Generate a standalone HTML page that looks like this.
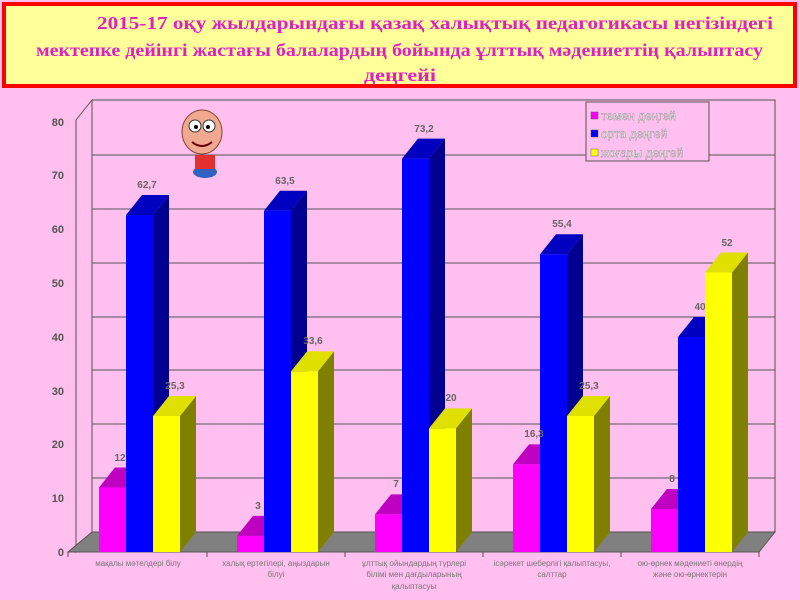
<!DOCTYPE html>
<html><head><meta charset="utf-8"><style>
body{margin:0;background:#ffbfef;}
svg{display:block}
</style></head><body>
<svg width="800" height="600" xmlns="http://www.w3.org/2000/svg" font-family="Liberation Sans, sans-serif">
<rect width="800" height="600" fill="#ffbfef"/>
<rect x="4" y="4" width="791" height="82" fill="#ffff99" stroke="#ff0000" stroke-width="4"/>
<g font-family="Liberation Serif, serif" font-weight="bold" font-size="18" fill="#e020c0">
<text x="97" y="29" textLength="676" lengthAdjust="spacingAndGlyphs">2015-17 оқу жылдарындағы       қазақ  халықтық  педагогикасы негізіндегі</text>
<text x="36" y="56" textLength="727" lengthAdjust="spacingAndGlyphs">мектепке дейінгі жастағы балалардың бойында ұлттық мәдениеттің қалыптасу</text>
<text x="364" y="81" textLength="72" lengthAdjust="spacingAndGlyphs">деңгейі</text>
</g>
<polygon points="76,552 92,532 92,100 76,120" fill="#ffbfef" stroke="#555" stroke-width="1"/>
<rect x="92" y="100" width="683" height="432" fill="#ffbfef" stroke="#555"/>
<g stroke="#555" stroke-width="1">
<line x1="92" y1="478" x2="775" y2="478"/><line x1="92" y1="424" x2="775" y2="424"/>
<line x1="92" y1="370" x2="775" y2="370"/><line x1="92" y1="317" x2="775" y2="317"/>
<line x1="92" y1="263" x2="775" y2="263"/><line x1="92" y1="209" x2="775" y2="209"/>
<line x1="92" y1="155" x2="775" y2="155"/>
</g>
<polygon points="68,552 92,532 775,532 759,552" fill="#808080" stroke="#555"/>
<line x1="68" y1="552" x2="759" y2="552" stroke="#555"/>
<g stroke="#555"><line x1="68" y1="552" x2="68" y2="557"/><line x1="207" y1="552" x2="207" y2="557"/><line x1="345" y1="552" x2="345" y2="557"/><line x1="483" y1="552" x2="483" y2="557"/><line x1="621" y1="552" x2="621" y2="557"/><line x1="759" y1="552" x2="759" y2="557"/></g>
<g font-size="11" font-weight="bold" fill="#555" text-anchor="end">
<text x="64" y="556">0</text><text x="64" y="502">10</text><text x="64" y="448">20</text><text x="64" y="395">30</text><text x="64" y="341">40</text><text x="64" y="287">50</text><text x="64" y="233">60</text><text x="64" y="179">70</text><text x="64" y="126">80</text>
</g>

<g transform="translate(99,0)"><polygon points="27,552 43,532 43,467.5 27,487.5" fill="#a000a0"/><polygon points="0,487.5 16,467.5 43,467.5 27,487.5" fill="#c000c0"/><rect x="0" y="487.5" width="27" height="64.5" fill="#ff00ff"/></g>
<g transform="translate(126,0)"><polygon points="27,552 43,532 43,195 27,215" fill="#000090"/><polygon points="0,215 16,195 43,195 27,215" fill="#0000c0"/><rect x="0" y="215" width="27" height="337" fill="#0000ff"/></g>
<g transform="translate(153,0)"><polygon points="27,552 43,532 43,396 27,416" fill="#808000"/><polygon points="0,416 16,396 43,396 27,416" fill="#e0e000"/><rect x="0" y="416" width="27" height="136" fill="#ffff00"/></g>

<g transform="translate(237,0)"><polygon points="27,552 43,532 43,515.9 27,535.9" fill="#a000a0"/><polygon points="0,535.9 16,515.9 43,515.9 27,535.9" fill="#c000c0"/><rect x="0" y="535.9" width="27" height="16.1" fill="#ff00ff"/></g>
<g transform="translate(264,0)"><polygon points="27,552 43,532 43,190.7 27,210.7" fill="#000090"/><polygon points="0,210.7 16,190.7 43,190.7 27,210.7" fill="#0000c0"/><rect x="0" y="210.7" width="27" height="341.3" fill="#0000ff"/></g>
<g transform="translate(291,0)"><polygon points="27,552 43,532 43,351.4 27,371.4" fill="#808000"/><polygon points="0,371.4 16,351.4 43,351.4 27,371.4" fill="#e0e000"/><rect x="0" y="371.4" width="27" height="180.6" fill="#ffff00"/></g>

<g transform="translate(375,0)"><polygon points="27,552 43,532 43,494.4 27,514.4" fill="#a000a0"/><polygon points="0,514.4 16,494.4 43,494.4 27,514.4" fill="#c000c0"/><rect x="0" y="514.4" width="27" height="37.6" fill="#ff00ff"/></g>
<g transform="translate(402,0)"><polygon points="27,552 43,532 43,138.6 27,158.6" fill="#000090"/><polygon points="0,158.6 16,138.6 43,138.6 27,158.6" fill="#0000c0"/><rect x="0" y="158.6" width="27" height="393.4" fill="#0000ff"/></g>
<g transform="translate(429,0)"><polygon points="27,552 43,532 43,408.4 27,428.4" fill="#808000"/><polygon points="0,428.4 16,408.4 43,408.4 27,428.4" fill="#e0e000"/><rect x="0" y="428.4" width="27" height="123.6" fill="#ffff00"/></g>

<g transform="translate(513,0)"><polygon points="27,552 43,532 43,444.4 27,464.4" fill="#a000a0"/><polygon points="0,464.4 16,444.4 43,444.4 27,464.4" fill="#c000c0"/><rect x="0" y="464.4" width="27" height="87.6" fill="#ff00ff"/></g>
<g transform="translate(540,0)"><polygon points="27,552 43,532 43,234.2 27,254.2" fill="#000090"/><polygon points="0,254.2 16,234.2 43,234.2 27,254.2" fill="#0000c0"/><rect x="0" y="254.2" width="27" height="297.8" fill="#0000ff"/></g>
<g transform="translate(567,0)"><polygon points="27,552 43,532 43,396 27,416" fill="#808000"/><polygon points="0,416 16,396 43,396 27,416" fill="#e0e000"/><rect x="0" y="416" width="27" height="136" fill="#ffff00"/></g>

<g transform="translate(651,0)"><polygon points="27,552 43,532 43,489 27,509" fill="#a000a0"/><polygon points="0,509 16,489 43,489 27,509" fill="#c000c0"/><rect x="0" y="509" width="27" height="43" fill="#ff00ff"/></g>
<g transform="translate(678,0)"><polygon points="27,552 43,532 43,317 27,337" fill="#000090"/><polygon points="0,337 16,317 43,317 27,337" fill="#0000c0"/><rect x="0" y="337" width="27" height="215" fill="#0000ff"/></g>
<g transform="translate(705,0)"><polygon points="27,552 43,532 43,252.5 27,272.5" fill="#808000"/><polygon points="0,272.5 16,252.5 43,252.5 27,272.5" fill="#e0e000"/><rect x="0" y="272.5" width="27" height="279.5" fill="#ffff00"/></g>

<g font-size="10" font-weight="bold" fill="#666" text-anchor="middle">
<text x="120" y="461">12</text><text x="147" y="188">62,7</text><text x="175" y="389">25,3</text>
<text x="258" y="509">3</text><text x="285" y="184">63,5</text><text x="313" y="344">33,6</text>
<text x="396" y="487">7</text><text x="424" y="132">73,2</text><text x="451" y="401">20</text>
<text x="534" y="437">16,3</text><text x="562" y="227">55,4</text><text x="589" y="389">25,3</text>
<text x="672" y="482">8</text><text x="700" y="310">40</text><text x="727" y="246">52</text>
</g>

<g font-size="8" fill="#777" text-anchor="middle">
<text x="138" y="566">мақалы мәтелдері білу</text>
<text x="276" y="566">халық ертегілері, аңыздарын</text><text x="276" y="577">білуі</text>
<text x="414" y="566">ұлттық ойындардың түрлері</text><text x="414" y="577">білімі мен дағдыларының</text><text x="414" y="589">қалыптасуы</text>
<text x="552" y="566">ісәрекет шеберлігі қалыптасуы,</text><text x="552" y="577">салттар</text>
<text x="690" y="566">ою-өрнек мәдениеті өнердің</text><text x="690" y="577">және ою-өрнектерін</text>
</g>
<rect x="586" y="102" width="123" height="59" fill="#ffbfef" stroke="#555"/>
<g font-size="12" fill="#fff" stroke="#888" stroke-width="0.4">
<rect x="591" y="112" width="7" height="7" fill="#ff00ff" stroke="#444"/><text x="601" y="120">төмен деңгей</text>
<rect x="591" y="130" width="7" height="7" fill="#0000ff" stroke="#444"/><text x="601" y="138">орта деңгей</text>
<rect x="591" y="149" width="7" height="7" fill="#ffff00" stroke="#444"/><text x="601" y="157">жоғары деңгей</text>
</g>
<g>
<ellipse cx="205" cy="172" rx="12" ry="6" fill="#3060c0"/>
<rect x="195" y="155" width="20" height="14" fill="#e03030"/>
<ellipse cx="202" cy="132" rx="20" ry="22" fill="#f0a890" stroke="#804030"/>
<circle cx="195" cy="126" r="6" fill="#fff" stroke="#333"/><circle cx="209" cy="126" r="6" fill="#fff" stroke="#333"/>
<circle cx="196" cy="127" r="2" fill="#000"/><circle cx="208" cy="127" r="2" fill="#000"/>
<path d="M192 142 Q202 150 212 142" stroke="#600" fill="none" stroke-width="2"/>
</g>
</svg>
</body></html>
